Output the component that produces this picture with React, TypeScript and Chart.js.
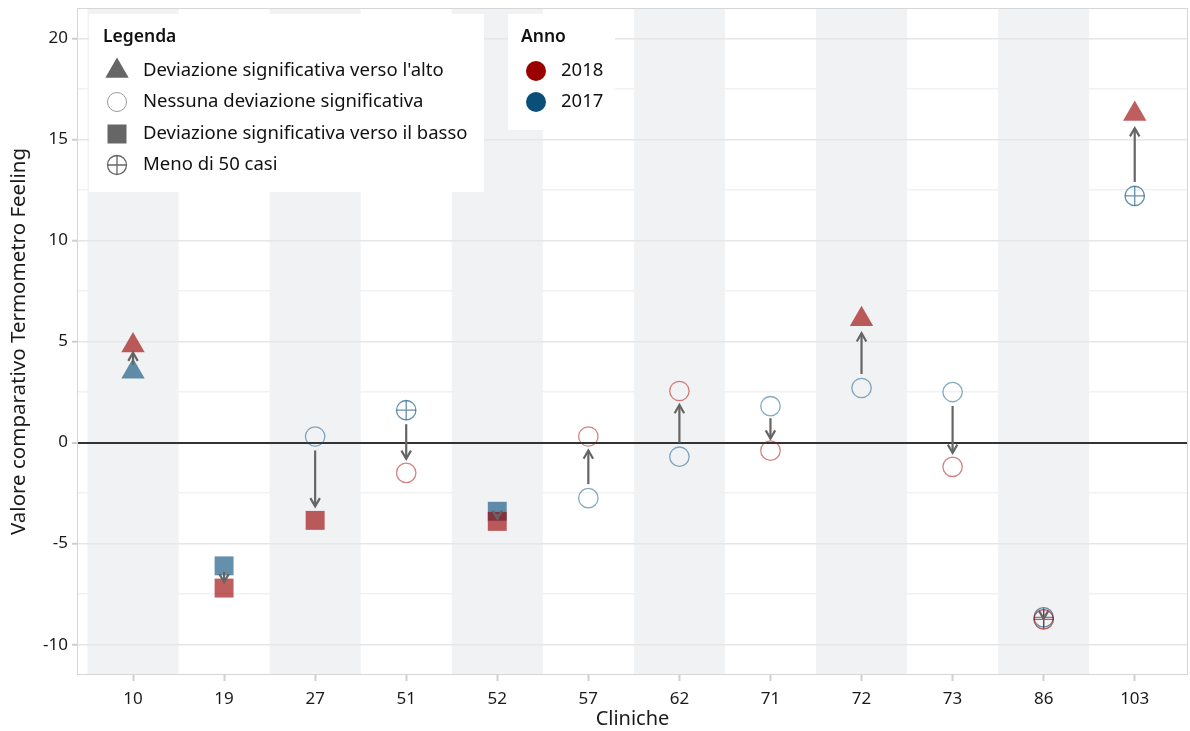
import React, { useEffect, useRef } from "react";
import { Chart, registerables } from "chart.js";

Chart.register(...registerables);

const categories = ["10", "19", "27", "51", "52", "57", "62", "71", "72", "73", "86", "103"];
const values2017 = [3.5, -6.1, 0.3, 1.6, -3.4, -2.75, -0.7, 1.8, 2.7, 2.5, -8.65, 12.2];
const values2018 = [4.8, -7.2, -3.85, -1.5, -3.9, 0.3, 2.55, -0.4, 6.1, -1.2, -8.75, 16.25];
const shapes2017 = ["up", "down", "none", "few", "down", "none", "none", "none", "none", "none", "few", "few"];
const shapes2018 = ["up", "down", "down", "none", "down", "none", "none", "none", "up", "none", "few", "up"];
const yTickValues = [-10, -7.5, -5, -2.5, 0, 2.5, 5, 7.5, 10, 12.5, 15, 17.5, 20];
const legendShapeLabels = [
  "Deviazione significativa verso l'alto",
  "Nessuna deviazione significativa",
  "Deviazione significativa verso il basso",
  "Meno di 50 casi",
];
const yearLabels = ["2018", "2017"];

const FONT = "'Noto Sans', sans-serif";
const RED = "rgba(153,0,0,0.63)";
const BLUE = "rgba(11,79,124,0.63)";
const RED_LINE = "rgba(170,20,20,0.52)";
const BLUE_LINE = "rgba(20,90,140,0.52)";
const RED_SOLID = "#9b0000";
const BLUE_SOLID = "#0a4f7a";

function pointsFor(values: number[], shapes: string[], shape: string) {
  const out: { x: number; y: number }[] = [];
  values.forEach((v, i) => {
    if (shapes[i] === shape) out.push({ x: i, y: v });
  });
  return out;
}

function datasetsForYear(values: number[], shapes: string[], color: string, line: string, label: string) {
  return [
    { label: label + " up", data: pointsFor(values, shapes, "up"), pointStyle: "triangle", pointRadius: 13.5, backgroundColor: color, borderColor: color, borderWidth: 0 },
    { label: label + " down", data: pointsFor(values, shapes, "down"), pointStyle: "rect", pointRadius: 13.4, backgroundColor: color, borderColor: color, borderWidth: 0 },
    { label: label + " none", data: pointsFor(values, shapes, "none"), pointStyle: "circle", pointRadius: 9.7, backgroundColor: "rgba(0,0,0,0)", borderColor: line, borderWidth: 1.3 },
    { label: label + " few", data: pointsFor(values, shapes, "few"), pointStyle: "circle", pointRadius: 9.7, backgroundColor: "rgba(0,0,0,0)", borderColor: color, borderWidth: 1.3 },
    { label: label + " few cross", data: pointsFor(values, shapes, "few"), pointStyle: "cross", pointRadius: 9.7, backgroundColor: "rgba(0,0,0,0)", borderColor: color, borderWidth: 1.3 },
  ];
}

const bandsPlugin = {
  id: "bands",
  beforeDraw(chart: any) {
    const { ctx, chartArea } = chart;
    const xs = chart.scales.x;
    ctx.save();
    ctx.fillStyle = "#ffffff";
    ctx.fillRect(0, 0, chart.width, chart.height);
    ctx.fillStyle = "#f1f2f4";
    categories.forEach((_, i) => {
      if (i % 2 !== 0) return;
      const a = xs.getPixelForValue(i - 0.5);
      const b = xs.getPixelForValue(i + 0.5);
      ctx.fillRect(a, chartArea.top, b - a, chartArea.bottom - chartArea.top);
    });
    ctx.restore();
  },
};

const arrowsPlugin = {
  id: "arrows",
  afterDatasetsDraw(chart: any) {
    const { ctx } = chart;
    const xs = chart.scales.x;
    const ys = chart.scales.y;
    ctx.save();
    ctx.strokeStyle = "#656565";
    ctx.lineWidth = 2.2;
    ctx.lineCap = "butt";
    categories.forEach((_, i) => {
      const x = xs.getPixelForValue(i);
      const p1 = ys.getPixelForValue(values2017[i]);
      const p2 = ys.getPixelForValue(values2018[i]);
      const dist = Math.abs(p2 - p1);
      const dir = p2 > p1 ? 1 : -1;
      const shrink = Math.min(14, dist * 0.27);
      const s = p1 + dir * shrink;
      const e = p2 - dir * shrink;
      ctx.beginPath();
      ctx.moveTo(x, s);
      ctx.lineTo(x, e);
      ctx.stroke();
      const hl = 9.5;
      const ang = Math.PI / 6;
      ctx.beginPath();
      ctx.moveTo(x - hl * Math.sin(ang), e - dir * hl * Math.cos(ang));
      ctx.lineTo(x, e);
      ctx.lineTo(x + hl * Math.sin(ang), e - dir * hl * Math.cos(ang));
      ctx.stroke();
    });
    ctx.restore();
  },
};

function drawMarker(ctx: CanvasRenderingContext2D, kind: string, x: number, y: number, color: string) {
  ctx.save();
  if (kind === "up") {
    const r = 13.5;
    ctx.fillStyle = color;
    ctx.beginPath();
    ctx.moveTo(x, y - r);
    ctx.lineTo(x + r * Math.sin(Math.PI / 3), y + r / 2);
    ctx.lineTo(x - r * Math.sin(Math.PI / 3), y + r / 2);
    ctx.closePath();
    ctx.fill();
  } else if (kind === "down") {
    ctx.fillStyle = color;
    ctx.fillRect(x - 9.5, y - 9.5, 19, 19);
  } else if (kind === "none") {
    ctx.strokeStyle = "#9a9a9a";
    ctx.lineWidth = 1;
    ctx.beginPath();
    ctx.arc(x, y, 9.5, 0, Math.PI * 2);
    ctx.stroke();
  } else if (kind === "few") {
    ctx.strokeStyle = color;
    ctx.lineWidth = 1.3;
    ctx.beginPath();
    ctx.arc(x, y, 9.5, 0, Math.PI * 2);
    ctx.moveTo(x - 9.5, y);
    ctx.lineTo(x + 9.5, y);
    ctx.moveTo(x, y - 9.5);
    ctx.lineTo(x, y + 9.5);
    ctx.stroke();
  } else if (kind === "dot") {
    ctx.fillStyle = color;
    ctx.beginPath();
    ctx.arc(x, y, 10, 0, Math.PI * 2);
    ctx.fill();
  }
  ctx.restore();
}

const overlayPlugin = {
  id: "overlay",
  afterDraw(chart: any) {
    const { ctx, chartArea } = chart;
    ctx.save();
    ctx.strokeStyle = "#d6d6d6";
    ctx.lineWidth = 1;
    ctx.strokeRect(chartArea.left + 0.5, chartArea.top + 0.5, chartArea.right - chartArea.left - 1, chartArea.bottom - chartArea.top - 1);

    ctx.fillStyle = "#ffffff";
    ctx.fillRect(89, 14, 395, 178);
    ctx.fillRect(508, 14, 107, 116);

    ctx.fillStyle = "#111111";
    ctx.textBaseline = "middle";
    ctx.textAlign = "left";
    ctx.font = "600 17.5px " + FONT;
    ctx.fillText("Legenda", 103, 37);
    ctx.fillText("Anno", 521, 37);

    ctx.font = "18.5px " + FONT;
    const kinds = ["up", "none", "down", "few"];
    const rows = [71, 102, 134, 165];
    kinds.forEach((k, i) => {
      drawMarker(ctx, k, 117, rows[i], "#666666");
      ctx.fillStyle = "#111111";
      ctx.fillText(legendShapeLabels[i], 143, rows[i]);
    });
    const yearColors = [RED_SOLID, BLUE_SOLID];
    yearLabels.forEach((lab, i) => {
      drawMarker(ctx, "dot", 536, rows[i], yearColors[i]);
      ctx.fillStyle = "#111111";
      ctx.fillText(lab, 561, rows[i]);
    });
    ctx.restore();
  },
};

export default function App() {
  const canvasRef = useRef<HTMLCanvasElement | null>(null);

  useEffect(() => {
    if (!canvasRef.current) return;
    const datasets = [
      ...datasetsForYear(values2018, shapes2018, RED, RED_LINE, "2018"),
      ...datasetsForYear(values2017, shapes2017, BLUE, BLUE_LINE, "2017"),
    ];
    const chart = new Chart(canvasRef.current, {
      type: "scatter",
      data: { datasets: datasets as any },
      options: {
        animation: false,
        responsive: false,
        maintainAspectRatio: false,
        layout: { autoPadding: false, padding: { top: 8, right: 2, left: 0, bottom: 0 } },
        plugins: {
          legend: { display: false },
          tooltip: { enabled: false },
        },
        scales: {
          x: {
            type: "linear",
            min: -0.615,
            max: 11.585,
            afterBuildTicks: (scale: any) => {
              scale.ticks = categories.map((_, i) => ({ value: i }));
            },
            afterFit: (scale: any) => {
              scale.height = 56;
              scale.paddingLeft = 0;
              scale.paddingRight = 0;
              scale.paddingTop = 0;
              scale.paddingBottom = 0;
            },
            ticks: {
              font: { family: FONT, size: 17 },
              color: "#1a1a1a",
              padding: 8,
              maxRotation: 0,
              autoSkip: false,
              callback: (v: any) => categories[v] ?? "",
            },
            grid: {
              drawOnChartArea: false,
              drawTicks: true,
              tickLength: 6,
              tickColor: "#cfcfcf",
              tickWidth: 2,
            },
            border: { display: false },
            title: {
              display: true,
              text: "Cliniche",
              font: { family: FONT, size: 20 },
              color: "#1a1a1a",
              padding: { top: 0, bottom: 0 },
            },
          },
          y: {
            type: "linear",
            min: -11.5,
            max: 21.5,
            afterBuildTicks: (scale: any) => {
              scale.ticks = yTickValues.map((v) => ({ value: v }));
            },
            afterFit: (scale: any) => {
              scale.width = 77;
              scale.paddingLeft = 0;
              scale.paddingRight = 0;
              scale.paddingTop = 0;
              scale.paddingBottom = 0;
            },
            ticks: {
              font: { family: FONT, size: 17 },
              color: "#1a1a1a",
              padding: 4,
              callback: (v: any) => (Number(v) % 5 === 0 ? String(v) : ""),
            },
            grid: {
              drawTicks: true,
              tickLength: 5,
              color: (c: any) => {
                const v = c.tick ? c.tick.value : null;
                if (v === 0) return "#333333";
                return v !== null && v % 5 === 0 ? "#e6e6e6" : "#f1f1f1";
              },
              lineWidth: (c: any) => (c.tick && c.tick.value === 0 ? 2 : 1.5),
              tickColor: (c: any) => (c.tick && c.tick.value % 5 === 0 ? "#cfcfcf" : "rgba(0,0,0,0)"),
              tickWidth: 2,
            },
            border: { display: false },
            title: {
              display: true,
              text: "Valore comparativo Termometro Feeling",
              font: { family: FONT, size: 20.5 },
              color: "#1a1a1a",
              padding: { top: 7, bottom: 0 },
            },
          },
        },
      } as any,
      plugins: [bandsPlugin, arrowsPlugin, overlayPlugin],
    });
    return () => chart.destroy();
  }, []);

  return (
    <div style={{ position: "absolute", left: 0, top: 0, width: 1190, height: 731, background: "#fff" }}>
      <canvas ref={canvasRef} width={1190} height={731} style={{ display: "block" }} />
    </div>
  );
}
